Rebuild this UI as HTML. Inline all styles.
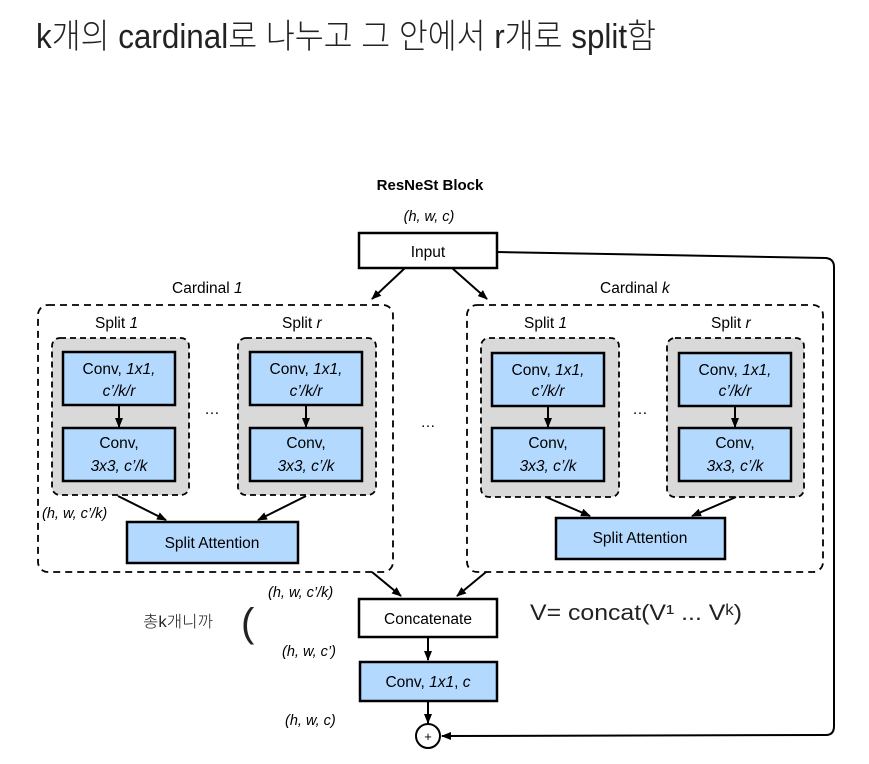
<!DOCTYPE html>
<html><head><meta charset="utf-8">
<style>
html,body{margin:0;padding:0;background:#fff;}
svg{display:block;}
text{font-family:"Liberation Sans",Arial,sans-serif;fill:#000;}
.hw{font-family:"Liberation Sans","Noto Sans CJK KR",sans-serif;font-weight:300;fill:#222;}
</style></head>
<body>
<svg width="869" height="764" viewBox="0 0 869 764" xmlns="http://www.w3.org/2000/svg">
<defs>
<marker id="a" markerWidth="10" markerHeight="10" refX="9" refY="5" orient="auto" markerUnits="userSpaceOnUse">
<path d="M0,1 L10,5 L0,9 Z" fill="#000"/>
</marker>
</defs>

<text x="36" y="48" class="hw" font-size="34" textLength="620" lengthAdjust="spacingAndGlyphs">k개의 cardinal로 나누고 그 안에서 r개로 split함</text>
<text x="143" y="627" class="hw" font-size="16" textLength="70" lengthAdjust="spacingAndGlyphs">총k개니까</text>
<text x="241" y="636" class="hw" font-size="40" font-weight="normal" fill="#444">(</text>
<text x="530" y="620" class="hw" font-size="22" textLength="212" lengthAdjust="spacingAndGlyphs">V= concat(V¹ ... Vᵏ)</text>

<text x="430" y="190" font-size="15" font-weight="bold" text-anchor="middle">ResNeSt Block</text>
<text x="429" y="221" font-size="14.5" font-style="italic" text-anchor="middle">(h, w, c)</text>

<rect x="359" y="233" width="138" height="35" fill="#fff" stroke="#000" stroke-width="2.5"/>
<text x="428" y="257" font-size="15.5" text-anchor="middle">Input</text>
<line x1="405" y1="268" x2="372" y2="299" stroke="#000" stroke-width="2" marker-end="url(#a)"/>
<line x1="452" y1="268" x2="487" y2="299" stroke="#000" stroke-width="2" marker-end="url(#a)"/>

<path d="M497,252 L826,258 Q834,259 834,267 L834,726 Q834,735 826,735 L442,736" fill="none" stroke="#000" stroke-width="2" marker-end="url(#a)"/>

<text x="172" y="293" font-size="15.5">Cardinal <tspan font-style="italic">1</tspan></text>
<rect x="38" y="305" width="355" height="267" rx="10" fill="none" stroke="#000" stroke-width="1.8" stroke-dasharray="7,5"/>
<text x="95" y="328" font-size="15.5">Split <tspan font-style="italic">1</tspan></text>
<text x="282" y="328" font-size="15.5">Split <tspan font-style="italic">r</tspan></text>
<rect x="52" y="338" width="137" height="157" rx="8" fill="#d9d9d9" stroke="#000" stroke-width="1.8" stroke-dasharray="6,4"/>
<rect x="238" y="338" width="138" height="157" rx="8" fill="#d9d9d9" stroke="#000" stroke-width="1.8" stroke-dasharray="6,4"/>
<g stroke="#000" stroke-width="2.5" fill="#b3d9ff">
<rect x="63" y="352" width="112" height="53"/><rect x="63" y="428" width="112" height="53"/>
<rect x="250" y="352" width="112" height="53"/><rect x="250" y="428" width="112" height="53"/>
<rect x="127" y="522" width="171" height="41"/>
</g>
<line x1="119" y1="405" x2="119" y2="427" stroke="#000" stroke-width="2" marker-end="url(#a)"/>
<line x1="306" y1="405" x2="306" y2="427" stroke="#000" stroke-width="2" marker-end="url(#a)"/>
<g font-size="15.5" text-anchor="middle">
<text x="119" y="374">Conv, <tspan font-style="italic">1x1,</tspan></text>
<text x="119" y="396" font-style="italic">c’/k/r</text>
<text x="119" y="448">Conv,</text>
<text x="119" y="471" font-style="italic">3x3, c’/k</text>
<text x="306" y="374">Conv, <tspan font-style="italic">1x1,</tspan></text>
<text x="306" y="396" font-style="italic">c’/k/r</text>
<text x="306" y="448">Conv,</text>
<text x="306" y="471" font-style="italic">3x3, c’/k</text>
<text x="212" y="548">Split Attention</text>
<text x="212" y="414">…</text>
</g>
<line x1="118" y1="496" x2="166" y2="520" stroke="#000" stroke-width="2" marker-end="url(#a)"/>
<line x1="306" y1="496" x2="258" y2="520" stroke="#000" stroke-width="2" marker-end="url(#a)"/>
<text x="42" y="518" font-size="14.5" font-style="italic">(h, w, c’/k)</text>

<text x="428" y="427" font-size="15" text-anchor="middle">…</text>

<text x="600" y="293" font-size="15.5">Cardinal <tspan font-style="italic">k</tspan></text>
<rect x="467" y="305" width="356" height="267" rx="10" fill="none" stroke="#000" stroke-width="1.8" stroke-dasharray="7,5"/>
<text x="524" y="328" font-size="15.5">Split <tspan font-style="italic">1</tspan></text>
<text x="711" y="328" font-size="15.5">Split <tspan font-style="italic">r</tspan></text>
<rect x="481" y="338" width="138" height="159" rx="8" fill="#d9d9d9" stroke="#000" stroke-width="1.8" stroke-dasharray="6,4"/>
<rect x="667" y="338" width="137" height="159" rx="8" fill="#d9d9d9" stroke="#000" stroke-width="1.8" stroke-dasharray="6,4"/>
<g stroke="#000" stroke-width="2.5" fill="#b3d9ff">
<rect x="492" y="353" width="112" height="53"/><rect x="492" y="428" width="112" height="53"/>
<rect x="679" y="353" width="112" height="53"/><rect x="679" y="428" width="112" height="53"/>
<rect x="556" y="518" width="169" height="41"/>
</g>
<line x1="548" y1="406" x2="548" y2="427" stroke="#000" stroke-width="2" marker-end="url(#a)"/>
<line x1="735" y1="406" x2="735" y2="427" stroke="#000" stroke-width="2" marker-end="url(#a)"/>
<g font-size="15.5" text-anchor="middle">
<text x="548" y="375">Conv, <tspan font-style="italic">1x1,</tspan></text>
<text x="548" y="396" font-style="italic">c’/k/r</text>
<text x="548" y="448">Conv,</text>
<text x="548" y="471" font-style="italic">3x3, c’/k</text>
<text x="735" y="375">Conv, <tspan font-style="italic">1x1,</tspan></text>
<text x="735" y="396" font-style="italic">c’/k/r</text>
<text x="735" y="448">Conv,</text>
<text x="735" y="471" font-style="italic">3x3, c’/k</text>
<text x="640" y="543">Split Attention</text>
<text x="640" y="414">…</text>
</g>
<line x1="546" y1="497" x2="590" y2="516" stroke="#000" stroke-width="2" marker-end="url(#a)"/>
<line x1="736" y1="497" x2="692" y2="516" stroke="#000" stroke-width="2" marker-end="url(#a)"/>

<line x1="372" y1="572" x2="401" y2="596" stroke="#000" stroke-width="2" marker-end="url(#a)"/>
<line x1="486" y1="572" x2="457" y2="596" stroke="#000" stroke-width="2" marker-end="url(#a)"/>
<text x="268" y="597" font-size="14.5" font-style="italic">(h, w, c’/k)</text>
<rect x="359" y="599" width="138" height="38" fill="#fff" stroke="#000" stroke-width="2.5"/>
<text x="428" y="624" font-size="15.5" text-anchor="middle">Concatenate</text>
<line x1="428" y1="637" x2="428" y2="660" stroke="#000" stroke-width="2" marker-end="url(#a)"/>
<text x="282" y="656" font-size="14.5" font-style="italic">(h, w, c’)</text>
<rect x="360" y="662" width="137" height="39" fill="#b3d9ff" stroke="#000" stroke-width="2.5"/>
<text x="428" y="687" font-size="15.5" text-anchor="middle">Conv, <tspan font-style="italic">1x1</tspan>, <tspan font-style="italic">c</tspan></text>
<line x1="428" y1="701" x2="428" y2="723" stroke="#000" stroke-width="2" marker-end="url(#a)"/>
<text x="285" y="725" font-size="14.5" font-style="italic">(h, w, c)</text>
<circle cx="428" cy="736" r="12" fill="#fff" stroke="#000" stroke-width="2"/>
<text x="428" y="741" font-size="13" text-anchor="middle">+</text>
</svg>
</body></html>
